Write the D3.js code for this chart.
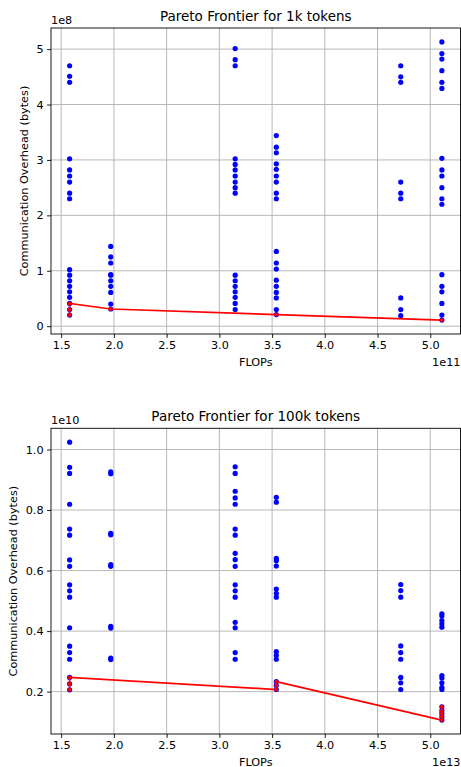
<!DOCTYPE html>
<html>
<head>
<meta charset="utf-8">
<script src="https://cdn.jsdelivr.net/npm/d3@7"></script>
<style>
  body { margin: 0; background: #fff; }
  text { font-family: "DejaVu Sans", sans-serif; fill: #000; }
</style>
</head>
<body>
<script>
// FLOPs columns (in units of the x offset)
const flopsCols = [1.58, 1.97, 3.15, 3.54, 4.72, 5.11];

// 1k tokens, overhead in units of 1e8 bytes, one array per FLOPs column
const overhead1k = [
  [4.70, 4.51, 4.40, 3.02, 2.82, 2.71, 2.60, 2.40, 2.30, 1.02, 0.92, 0.82, 0.72, 0.62, 0.52, 0.41, 0.30, 0.20],
  [1.44, 1.25, 1.14, 0.93, 0.92, 0.82, 0.72, 0.61, 0.40, 0.31],
  [5.01, 4.81, 4.70, 3.02, 2.92, 2.82, 2.71, 2.60, 2.50, 2.40, 0.92, 0.82, 0.72, 0.62, 0.52, 0.41, 0.30],
  [3.44, 3.23, 3.13, 2.93, 2.83, 2.71, 2.60, 2.40, 2.30, 1.35, 1.14, 1.03, 0.83, 0.72, 0.61, 0.51, 0.30, 0.21],
  [4.70, 4.50, 4.40, 2.60, 2.40, 2.30, 0.51, 0.30, 0.19],
  [5.13, 4.92, 4.82, 4.61, 4.40, 4.29, 3.03, 2.82, 2.71, 2.50, 2.30, 2.20, 0.93, 0.72, 0.62, 0.41, 0.20, 0.11]
];
const pareto1kX = [1.58, 1.58, 1.58, 1.97, 3.54, 5.11];
const pareto1kY = [0.20, 0.30, 0.41, 0.31, 0.21, 0.11];

// 100k tokens, overhead in units of 1e10 bytes
const overhead100k = [
  [1.024, 0.941, 0.921, 0.819, 0.737, 0.717, 0.635, 0.614, 0.553, 0.533, 0.512, 0.411, 0.350, 0.329, 0.307, 0.247, 0.226, 0.206],
  [0.926, 0.920, 0.723, 0.718, 0.620, 0.614, 0.416, 0.410, 0.311, 0.306],
  [0.943, 0.921, 0.862, 0.840, 0.819, 0.737, 0.717, 0.657, 0.636, 0.614, 0.553, 0.533, 0.512, 0.429, 0.411, 0.329, 0.307],
  [0.842, 0.826, 0.640, 0.632, 0.615, 0.539, 0.525, 0.512, 0.332, 0.319, 0.307, 0.233, 0.220, 0.207],
  [0.554, 0.534, 0.512, 0.351, 0.329, 0.307, 0.247, 0.229, 0.207],
  [0.457, 0.450, 0.435, 0.424, 0.413, 0.253, 0.245, 0.229, 0.214, 0.207, 0.150, 0.137, 0.127, 0.117, 0.106]
];
const pareto100kX = [1.58, 1.58, 1.58, 3.54, 3.54, 3.54, 5.11, 5.11, 5.11, 5.11, 5.11];
const pareto100kY = [0.206, 0.226, 0.247, 0.207, 0.220, 0.233, 0.106, 0.117, 0.127, 0.137, 0.150];

const xTicks = [1.5, 2.0, 2.5, 3.0, 3.5, 4.0, 4.5, 5.0];
const yTicks1k = [0, 1, 2, 3, 4, 5];
const yTicks100k = [0.2, 0.4, 0.6, 0.8, 1.0];

const W = 461, H = 767;
const svg = d3.select("body").append("svg")
  .attr("width", W).attr("height", H);

function drawPanel(opts) {
  const left = 51, right = 460.5;
  const top = opts.top, bottom = opts.bottom;
  const g = svg.append("g");

  const xScale = d3.scaleLinear([1.4035, 5.2865], [left, right]);
  const yScale = d3.scaleLinear(opts.yDomain, [bottom, top]);

  // grid
  g.selectAll(".vgrid").data(xTicks).join("line")
    .attr("x1", d => xScale(d)).attr("x2", d => xScale(d))
    .attr("y1", top).attr("y2", bottom)
    .attr("stroke", "#b0b0b0").attr("stroke-width", 0.9);
  g.selectAll(".hgrid").data(opts.yTicks).join("line")
    .attr("y1", d => yScale(d)).attr("y2", d => yScale(d))
    .attr("x1", left).attr("x2", right)
    .attr("stroke", "#b0b0b0").attr("stroke-width", 0.9);

  // scatter of all configs
  const pts = [];
  opts.cols.forEach((vals, i) => vals.forEach(v => pts.push([flopsCols[i], v])));
  g.selectAll(".pt").data(pts).join("circle")
    .attr("cx", d => xScale(d[0])).attr("cy", d => yScale(d[1]))
    .attr("r", 2.6).attr("fill", "#0000ff");

  // pareto line
  const pareto = opts.px.map((x, i) => [x, opts.py[i]]);
  const line = d3.line().x(d => xScale(d[0])).y(d => yScale(d[1]));
  g.append("path").datum(pareto)
    .attr("d", line).attr("fill", "none")
    .attr("stroke", "#ff0000").attr("stroke-width", 1.7);
  g.selectAll(".pp").data(pareto).join("circle")
    .attr("cx", d => xScale(d[0])).attr("cy", d => yScale(d[1]))
    .attr("r", 1.9).attr("fill", "#ff0000");

  // axes
  const xAxis = d3.axisBottom(xScale).tickValues(xTicks)
    .tickFormat(d3.format(".1f")).tickSize(3.9).tickPadding(3.5);
  const yAxis = d3.axisLeft(yScale).tickValues(opts.yTicks)
    .tickFormat(opts.yFormat).tickSize(3.9).tickPadding(3.5);
  const gx = g.append("g").attr("transform", `translate(0,${bottom})`).call(xAxis);
  const gy = g.append("g").attr("transform", `translate(${left},0)`).call(yAxis);
  [gx, gy].forEach(a => {
    a.select(".domain").remove();
    a.selectAll("line").attr("stroke", "#000").attr("stroke-width", 0.9);
    a.selectAll("text").style("font-size", "11.25px").attr("fill", "#000")
      .style("font-family", "DejaVu Sans");
  });

  // frame
  g.append("rect")
    .attr("x", left).attr("y", top)
    .attr("width", right - left).attr("height", bottom - top)
    .attr("fill", "none").attr("stroke", "#000").attr("stroke-width", 0.9);

  // title
  g.append("text")
    .attr("x", (left + right) / 2).attr("y", top - 7)
    .attr("text-anchor", "middle").style("font-size", "13.5px")
    .text(opts.title);

  // offset texts
  g.append("text").attr("x", left).attr("y", top - 4)
    .style("font-size", "11.25px").text(opts.yOffset);
  g.append("text").attr("x", right).attr("y", bottom + 31.5)
    .attr("text-anchor", "end").style("font-size", "11.25px").text(opts.xOffset);

  // axis labels
  g.append("text").attr("x", (left + right) / 2).attr("y", bottom + 31.5)
    .attr("text-anchor", "middle").style("font-size", "11.25px").text("FLOPs");
  g.append("text")
    .attr("transform", `translate(${opts.ylabX},${(top + bottom) / 2}) rotate(-90)`)
    .attr("text-anchor", "middle").style("font-size", "11.25px")
    .text("Communication Overhead (bytes)");
}

drawPanel({
  top: 28, bottom: 334,
  yDomain: [-0.141, 5.381], yTicks: yTicks1k, yFormat: d3.format("d"),
  cols: overhead1k, px: pareto1kX, py: pareto1kY,
  title: "Pareto Frontier for 1k tokens", yOffset: "1e8", xOffset: "1e11",
  ylabX: 28
});

drawPanel({
  top: 428.3, bottom: 734,
  yDomain: [0.060, 1.070], yTicks: yTicks100k, yFormat: d3.format(".1f"),
  cols: overhead100k, px: pareto100kX, py: pareto100kY,
  title: "Pareto Frontier for 100k tokens", yOffset: "1e10", xOffset: "1e13",
  ylabX: 17
});
</script>
</body>
</html>
